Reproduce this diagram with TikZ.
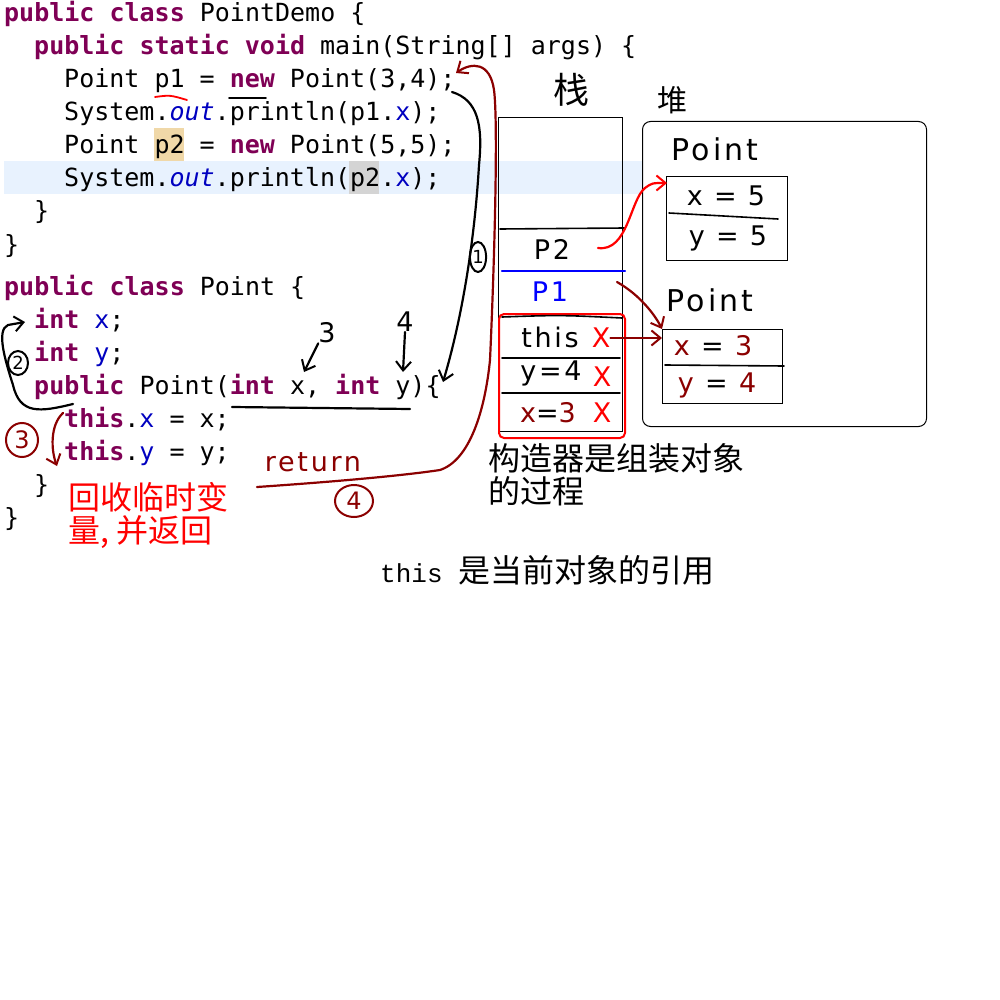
\documentclass[tikz,border=0pt]{standalone}
\usepackage{fontspec}
\usetikzlibrary{arrows.meta,shapes.geometric}
\newfontfamily\codefont{DejaVu Sans Mono}
\newfontfamily\cjkfont{Noto Sans CJK SC}
\newfontfamily\handfont[LetterSpace=10]{DejaVu Sans}
\newfontfamily\monoserif{Liberation Mono}
\definecolor{kwc}{HTML}{7F0055}
\definecolor{fldc}{HTML}{0000C0}
\definecolor{hlline}{HTML}{E8F2FE}
\definecolor{hlocc}{HTML}{F0D8A8}
\definecolor{hlgray}{HTML}{D4D4D4}
\definecolor{dred}{HTML}{8B0000}
\definecolor{pred}{HTML}{FF0000}
\definecolor{pblue}{HTML}{0000FF}
\newcommand\kwd[1]{\textcolor{kwc}{\bfseries #1}}
\newcommand\fld[1]{\textcolor{fldc}{#1}}
\newcommand\fldi[1]{\textcolor{fldc}{\itshape #1}}
\begin{document}
\begin{tikzpicture}[x=1pt,y=-1pt,
  code/.style={anchor=base west,inner sep=0pt,font=\codefont\fontsize{25}{30}\selectfont},
  hand/.style={inner sep=0pt,font=\handfont\fontsize{27}{30}\selectfont},
  pen/.style={line width=2.2pt,line cap=round,line join=round},
  tipa/.style={-{Straight Barb[length=9pt,width=15pt,line width=2pt]}},
  cjk/.style={anchor=base west,inner sep=0pt,font=\cjkfont\fontsize{32}{32}\selectfont},
  thinbox/.style={draw,line width=1pt,inner sep=0pt},
  numring/.style={draw,ellipse,line width=2pt,inner sep=0pt,font=\handfont\fontsize{18}{18}\selectfont}
]
\useasboundingbox (0,0) rectangle (1000,1000);
\fill[white] (0,0) rectangle (1000,1000);
% highlights
\fill[hlline] (4,161) rectangle (643,194);
\fill[hlocc] (154,128) rectangle (184,161);
\fill[hlgray] (349,161) rectangle (379,194);
% code
\node[code] (l1) at (4,22) {\kwd{public} \kwd{class} PointDemo \{};
\node[code] (l2) at (34,55) {\kwd{public} \kwd{static} \kwd{void} main(String[] args) \{};
\node[code] (l3) at (64,88) {Point p1 = \kwd{new} Point(3,4);};
\node[code] (l4) at (64,121) {System.\fldi{out}.println(p1.\fld{x});};
\node[code] (l5) at (64,154) {Point p2 = \kwd{new} Point(5,5);};
\node[code] (l6) at (64,187) {System.\fldi{out}.println(p2.\fld{x});};
\node[code] (l7) at (34,220) {\}};
\node[code] (l8) at (4,253) {\}};
\node[code] (l9) at (4,295) {\kwd{public} \kwd{class} Point \{};
\node[code] (l10) at (34,328) {\kwd{int} \fld{x};};
\node[code] (l11) at (34,361) {\kwd{int} \fld{y};};
\node[code] (l12) at (34,394) {\kwd{public} Point(\kwd{int} x, \kwd{int} y)\{};
\node[code] (l13) at (64,427) {\kwd{this}.\fld{x} = x;};
\node[code] (l14) at (64,460) {\kwd{this}.\fld{y} = y;};
\node[code] (l15) at (34,493) {\}};
\node[code] (l16) at (4,526) {\}};
% underlines
\draw[pred,line width=1.8pt,line cap=round] (155,97) .. controls (170,95) .. (187,100);
\draw[line width=1.8pt,line cap=round] (229,98) -- (266,98);
\draw[pen] (232,407) -- (410,409);
% stack
\node[font=\cjkfont\fontsize{36}{36}\selectfont,inner sep=0pt] (stk) at (571,90) {栈};
\node[font=\cjkfont\fontsize{30}{30}\selectfont,inner sep=0pt] (hp) at (672,100) {堆};
\node[thinbox,minimum width=124pt,minimum height=314pt,anchor=north west] (stack) at (498,117) {};
\draw[pen,line width=1.6pt] (500,229) -- (625,228);
\draw[pen,pblue] (502,271) -- (625,271);
\node[draw=pred,line width=2pt,rounded corners=5pt,minimum width=126pt,minimum height=124pt,anchor=north west,inner sep=0pt] (frame) at (498,313) {};
\draw[pen,line width=1.6pt] (502,317) .. controls (560,315) .. (622,318);
\draw[pen,line width=1.6pt] (502,358) -- (620,358);
\draw[pen,line width=1.6pt] (502,393) -- (620,393);
\node[hand] (p2) at (552,249) {P2};
\node[hand,text=pblue] (p1) at (550,292) {P1};
\node[hand] (this) at (550,337) {this};
\node[hand,text=pred] (xa) at (601,338) {X};
\node[hand] (y4s) at (551,373) {y=4};
\node[hand,text=pred] (xb) at (602,377) {X};
\node[hand] (x3s) at (548,413) {\textcolor{dred}{x}=\textcolor{dred}{3}};
\node[hand,text=pred] (xc) at (602,413) {X};
% heap
\node[thinbox,rounded corners=8pt,minimum width=284pt,minimum height=305pt,anchor=north west] (heap) at (642,121) {};
\node[hand,font=\handfont\fontsize{30}{30}\selectfont] (pt1) at (715,149) {Point};
\node[thinbox,minimum width=121pt,minimum height=84pt,anchor=north west] (obj1) at (666,176) {};
\draw[pen,line width=1.6pt] (669,213) -- (778,219);
\node[hand] (x5) at (726,196) {x = 5};
\node[hand] (y5) at (728,238) {y = 5};
\node[hand,font=\handfont\fontsize{30}{30}\selectfont] (pt2) at (710,300) {Point};
\node[thinbox,minimum width=120pt,minimum height=74pt,anchor=north west] (obj2) at (662,329) {};
\draw[pen,line width=1.6pt] (665,365) -- (784,366);
\node[hand] (x3h) at (713,346) {\textcolor{dred}{x} = \textcolor{dred}{3}};
\node[hand] (y4h) at (717,385) {\textcolor{dred}{y} = \textcolor{dred}{4}};
% arrows stack -> heap
\coordinate (p2tail) at (598,248);
\coordinate (o1in) at (667,183);
\draw[pen,pred,tipa] (p2tail) .. controls (628,252) and (630,200) .. (645,188) .. controls (652,183) .. (o1in);
\coordinate (p1tail) at (617,282);
\draw[pen,dred,tipa] (p1tail) .. controls (640,295) and (655,315) .. (obj2.north west);
\draw[pen,dred,tipa] (xa.east) -- (xa.east -| obj2.west);
% arrow 1
\coordinate (c1s) at (452,92);
\coordinate (c1e) at (443,382);
\draw[pen,tipa] (c1s) .. controls (478,100) and (483,125) .. (479,165) .. controls (474,250) and (460,325) .. (c1e);
\node[numring,minimum width=14pt,minimum height=30pt] (n1) at (478,257) {1};
% return arrow 4
\coordinate (retstart) at (257,487);
\coordinate (semi) at (456,73);
\draw[pen,dred,tipa] (retstart) .. controls (330,482) and (400,476) .. (440,470) .. controls (470,460) and (485,410) .. (490,360) .. controls (495,250) and (498,120) .. (494,90) .. controls (490,62) and (472,62) .. (semi);
\node[hand,text=dred] (ret) at (313,462) {return};
\node[numring,draw=dred,text=dred,minimum width=38pt,minimum height=32pt,font=\handfont\fontsize{24}{24}\selectfont] (n4) at (354,501) {4};
% arrow 2
\coordinate (c2s) at (73,404);
\coordinate (c2e) at (25,322);
\draw[pen,tipa] (c2s) .. controls (40,412) and (20,415) .. (13,385) .. controls (5,360) and (-4,330) .. (8,325) -- (c2e);
\node[numring,minimum width=20pt,minimum height=24pt] (n2) at (18,363) {2};
% 3 and 4 labels
\node[hand] (lab3) at (327,333) {3};
\coordinate (arg3) at (304,372);
\draw[pen,tipa] (lab3.south west) -- (arg3);
\node[hand] (lab4) at (405,322) {4};
\coordinate (arg4) at (403,372);
\draw[pen,tipa] (lab4.south) -- (arg4);
% arrow 3
\node[numring,draw=dred,text=dred,minimum width=32pt,minimum height=34pt,font=\handfont\fontsize{24}{24}\selectfont] (n3) at (22,440) {3};
\coordinate (c3s) at (63,413);
\coordinate (c3e) at (57,466);
\draw[pen,dred,tipa] (c3s) .. controls (50,425) and (51,450) .. (c3e);
% Chinese notes
\node[cjk,text=pred] (rec1) at (68,509) {回收临时变};
\node[cjk,text=pred] (rec2) at (68,542) {量, 并返回};
\node[cjk] (cz1) at (488,470) {构造器是组装对象};
\node[cjk] (cz2) at (488,503) {的过程};
\node[anchor=base west,inner sep=0pt] (thisnote) at (380,582) {\monoserif\fontsize{26}{26}\selectfont this \cjkfont\fontsize{32}{32}\selectfont 是当前对象的引用};
\end{tikzpicture}
\end{document}
